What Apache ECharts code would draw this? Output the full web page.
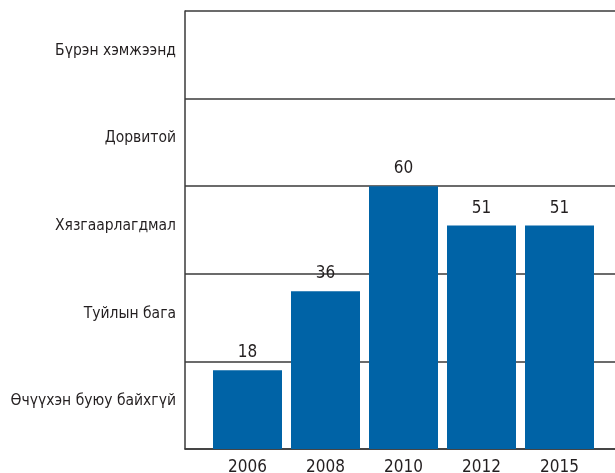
<!DOCTYPE html>
<html><head><meta charset="utf-8">
<script src="https://cdn.jsdelivr.net/npm/echarts@6/dist/echarts.min.js"></script>
<style>html,body{margin:0;padding:0;background:#fff}#c{width:615px;height:473px}</style>
</head><body><div id="c"></div>
<script>
const levels = ['Өчүүхэн буюу байхгүй', 'Туйлын бага', 'Хязгаарлагдмал', 'Дорвитой', 'Бүрэн хэмжээнд'];
const years = ['2006', '2008', '2010', '2012', '2015'];
const values = [18, 36, 60, 51, 51];

const FONT = "'Liberation Sans Narrow', 'DejaVu Sans Condensed', 'Arial Narrow', sans-serif";
const LINE = '#3a3a3a';
const chart = echarts.init(document.getElementById('c'), null, {renderer: 'canvas'});
chart.setOption({
  animation: false,
  backgroundColor: '#fff',
  textStyle: {fontFamily: FONT},
  grid: [
    {left: 185, right: 0, top: 11, bottom: 24, outerBoundsMode: 'none', containLabel: false},
    {left: 208.5, width: 390, top: 11, bottom: 24, outerBoundsMode: 'none', containLabel: false}
  ],
  xAxis: [
    {gridIndex: 0, type: 'value', min: 0, max: 1, show: true,
     axisLine: {show: true, lineStyle: {color: LINE, width: 1.5}},
     axisTick: {show: false}, axisLabel: {show: false}, splitLine: {show: false}},
    {gridIndex: 1, type: 'category', data: years,
     axisLine: {show: false}, axisTick: {show: false},
     axisLabel: {color: '#231f20', fontSize: 17, fontFamily: FONT, margin: 10}}
  ],
  yAxis: [
    {gridIndex: 0, type: 'category', data: levels, boundaryGap: true,
     axisLine: {show: true, lineStyle: {color: LINE, width: 1.5}},
     axisTick: {show: false},
     axisLabel: {color: '#231f20', fontSize: 15.5, fontFamily: FONT, margin: 9,
                 verticalAlign: 'bottom', lineHeight: 8},
     splitLine: {show: true, lineStyle: {color: LINE, width: 1.5}}},
    {gridIndex: 1, type: 'value', min: 0, max: 100, show: false}
  ],
  series: [{
    type: 'bar', xAxisIndex: 1, yAxisIndex: 1, data: values, barWidth: 69,
    itemStyle: {color: '#0063a6'},
    label: {show: true, position: 'top', distance: 9, color: '#231f20', fontSize: 17, fontFamily: FONT}
  }]
});
</script></body></html>
